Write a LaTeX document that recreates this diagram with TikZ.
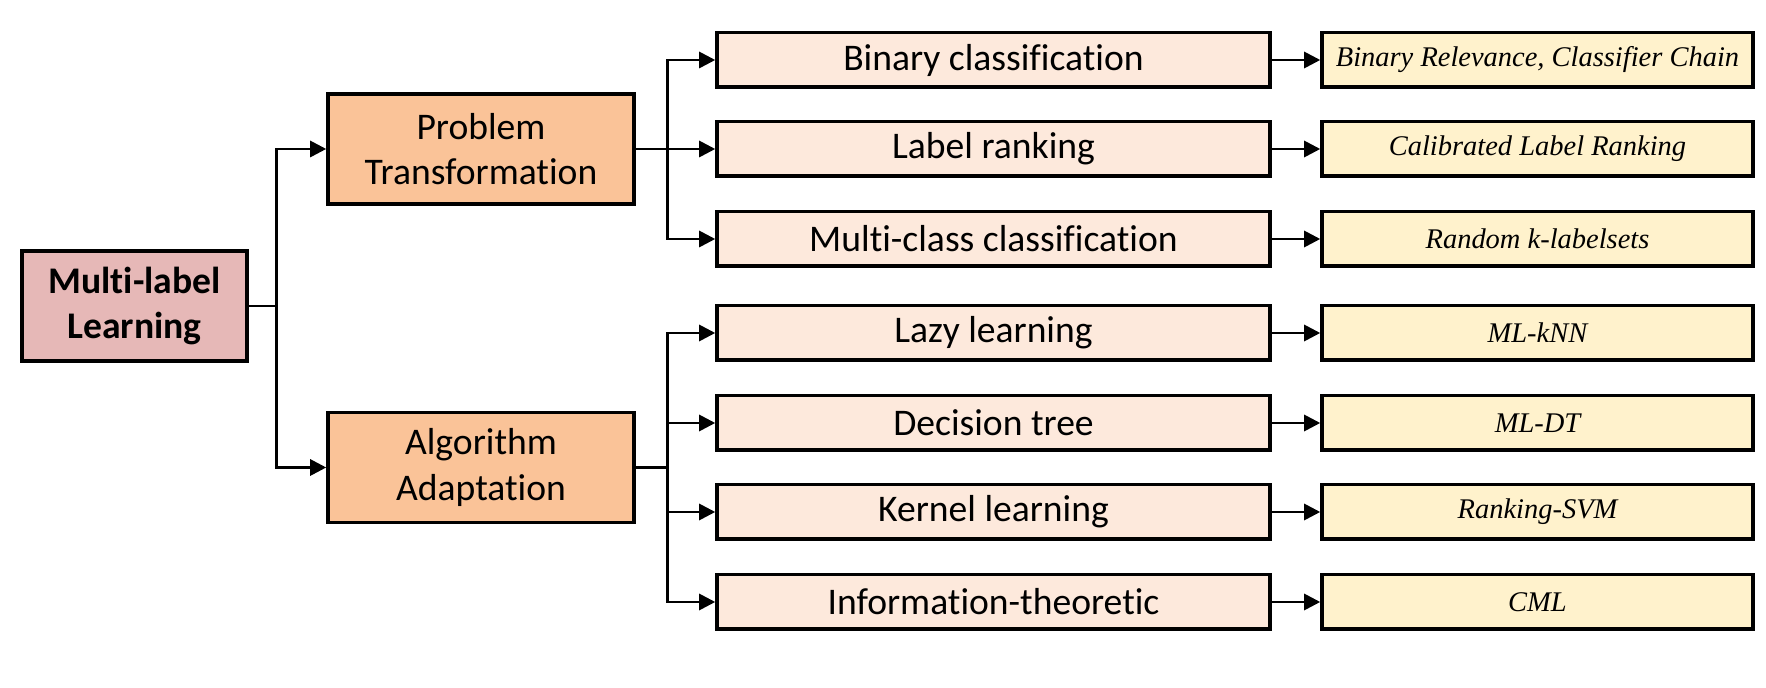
\documentclass[tikz,border=0pt]{standalone}
\usepackage{fontspec}
\setmainfont{Carlito}[Ligatures=NoCommon]
\newfontfamily\methfont{Liberation Serif}
\usepackage{xcolor}
\usetikzlibrary{arrows.meta}

\definecolor{rootfill}{HTML}{E6B8B7}
\definecolor{catfill}{HTML}{FAC398}
\definecolor{taskfill}{HTML}{FDE9DC}
\definecolor{methfill}{HTML}{FFF2CC}

\begin{document}
\begin{tikzpicture}[
	box/.style={draw=black, line width=1pt, align=center, inner sep=0pt, font=\fontsize{10.7}{13}\selectfont},
	rootbox/.style={box, fill=rootfill, minimum width=2.25cm, minimum height=1.10cm, font=\fontsize{10.7}{13}\selectfont\bfseries},
	catbox/.style={box, fill=catfill, minimum width=3.06cm, minimum height=1.10cm},
	taskbox/.style={box, fill=taskfill, minimum width=5.53cm, minimum height=0.545cm},
	methbox/.style={box, fill=methfill, minimum width=4.31cm, minimum height=0.545cm, font=\methfont\itshape\fontsize{8.1}{10}\selectfont},
	conn/.style={line width=0.8pt, -{Triangle[length=4.6pt,width=4.6pt]}}
]
	\useasboundingbox (0,0) rectangle (17.66,-6.88);

	\node[rootbox] (mll) at (1.345,-3.06) {Multi-label\\Learning};
	\node[catbox] (pt) at (4.81,-1.49) {Problem\\Transformation};
	\node[catbox] (aa) at (4.81,-4.675) {Algorithm\\Adaptation};

	\node[taskbox] (bc) at (9.935,-0.60) {Binary classification};
	\node[taskbox] (lr) at (9.935,-1.49) {Label ranking};
	\node[taskbox] (mc) at (9.935,-2.39) {Multi-class classification};
	\node[taskbox] (lazy) at (9.935,-3.33) {Lazy learning};
	\node[taskbox] (dt) at (9.935,-4.23) {Decision tree};
	\node[taskbox] (kl) at (9.935,-5.12) {Kernel learning};
	\node[taskbox] (it) at (9.935,-6.02) {Information-theoretic};

	\node[methbox] (br) at (15.375,-0.60) {Binary Relevance, Classifier Chain};
	\node[methbox] (clr) at (15.375,-1.49) {Calibrated Label Ranking};
	\node[methbox] (rakel) at (15.375,-2.39) {Random k-labelsets};
	\node[methbox] (mlknn) at (15.375,-3.33) {ML-kNN};
	\node[methbox] (mldt) at (15.375,-4.23) {ML-DT};
	\node[methbox] (rsvm) at (15.375,-5.12) {Ranking-SVM};
	\node[methbox] (cml) at (15.375,-6.02) {CML};

	% root to the two families
	\draw[conn] (mll.east) -- ++(0.28,0) |- (pt.west);
	\draw[conn] (mll.east) -- ++(0.28,0) |- (aa.west);

	\draw[conn] (pt.east) -- ++(0.32,0) |- (bc.west);
	\draw[conn] (pt.east) -- (lr.west);
	\draw[conn] (pt.east) -- ++(0.32,0) |- (mc.west);

	\draw[conn] (aa.east) -- ++(0.32,0) |- (lazy.west);
	\draw[conn] (aa.east) -- ++(0.32,0) |- (dt.west);
	\draw[conn] (aa.east) -- ++(0.32,0) |- (kl.west);
	\draw[conn] (aa.east) -- ++(0.32,0) |- (it.west);

	% tasks to methods
	\draw[conn] (bc) -- (br);
	\draw[conn] (lr) -- (clr);
	\draw[conn] (mc) -- (rakel);
	\draw[conn] (lazy) -- (mlknn);
	\draw[conn] (dt) -- (mldt);
	\draw[conn] (kl) -- (rsvm);
	\draw[conn] (it) -- (cml);

\end{tikzpicture}
\end{document}
